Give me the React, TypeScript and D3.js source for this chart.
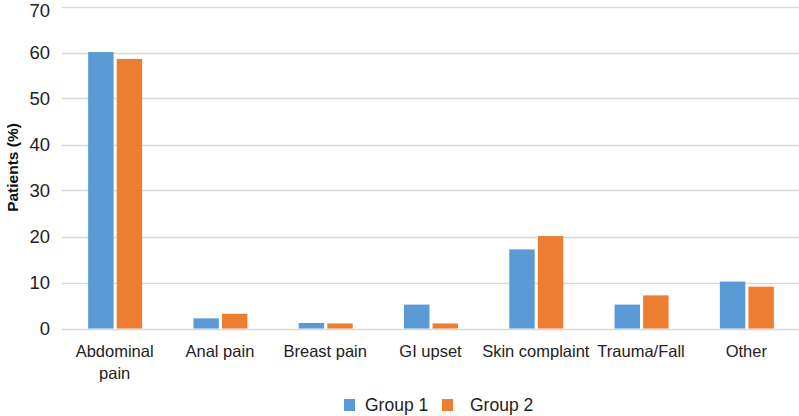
import { useEffect, useRef } from "react";
import * as d3 from "d3";

const categories = ["Abdominal pain", "Anal pain", "Breast pain", "GI upset", "Skin complaint", "Trauma/Fall", "Other"];
const group1 = [60.1, 2.2, 1.2, 5.2, 17.2, 5.2, 10.2];
const group2 = [58.6, 3.2, 1.1, 1.1, 20.1, 7.2, 9.1];
const seriesNames = ["Group 1", "Group 2"];
const colors = ["#5b9bd5", "#ed7d31"];
const yTicks = [0, 10, 20, 30, 40, 50, 60, 70];

const App = () => {
  const ref = useRef<SVGSVGElement>(null);

  useEffect(() => {
    const width = 799;
    const height = 416;
    const margin = { top: 6, right: 0, bottom: 87, left: 62 };
    const font = "'Liberation Sans', Arial, sans-serif";

    const svg = d3.select(ref.current);
    svg.selectAll("*").remove();

    const x = d3
      .scaleBand()
      .domain(categories)
      .range([margin.left, width - margin.right]);
    const x1 = d3
      .scaleBand()
      .domain(seriesNames)
      .range([-27, 27])
      .paddingInner(0.11);
    const y = d3
      .scaleLinear()
      .domain([0, 70])
      .range([height - margin.bottom - 0.5, margin.top + 0.5]);

    // grid
    svg
      .append("g")
      .selectAll("line")
      .data(yTicks)
      .join("line")
      .attr("x1", margin.left)
      .attr("x2", width)
      .attr("y1", (d) => Math.round(y(d)) + 0.5)
      .attr("y2", (d) => Math.round(y(d)) + 0.5)
      .attr("stroke", "#d9d9d9")
      .attr("stroke-width", 1.3);

    // y labels (70 nudged so it is not clipped at the top)
    svg
      .append("g")
      .selectAll("text")
      .data(yTicks)
      .join("text")
      .attr("x", 50)
      .attr("y", (d) => Math.max(y(d), 10.5))
      .attr("dy", "0.36em")
      .attr("text-anchor", "end")
      .attr("font-family", font)
      .attr("font-size", 18.5)
      .attr("fill", "#222")
      .text((d) => d);

    svg
      .append("text")
      .attr("transform", `translate(13,${(y(0) + y(70)) / 2}) rotate(-90)`)
      .attr("text-anchor", "middle")
      .attr("dy", "0.35em")
      .attr("font-family", font)
      .attr("font-weight", "bold")
      .attr("font-size", 15.5)
      .attr("fill", "#111")
      .text("Patients (%)");

    // bars
    const rows = categories.map((c, i) => ({ c, vals: [group1[i], group2[i]] }));
    const g = svg
      .append("g")
      .selectAll("g")
      .data(rows)
      .join("g")
      .attr("transform", (d) => `translate(${x(d.c)! + x.bandwidth() / 2 + 0.5},0)`);
    g.selectAll("rect")
      .data((d) => d.vals.map((v, j) => ({ v, s: seriesNames[j], j })))
      .join("rect")
      .attr("x", (d) => x1(d.s)!)
      .attr("width", x1.bandwidth())
      .attr("y", (d) => y(d.v))
      .attr("height", (d) => y(0) - y(d.v))
      .attr("fill", (d) => colors[d.j]);

    // x labels
    const lab = svg
      .append("g")
      .selectAll("text")
      .data(categories)
      .join("text")
      .attr("x", (d) => x(d)! + x.bandwidth() / 2)
      .attr("y", 357)
      .attr("text-anchor", "middle")
      .attr("font-family", font)
      .attr("font-size", 16.5)
      .attr("fill", "#222");
    lab.each(function (d) {
      const t = d3.select(this);
      const parts = d === "Abdominal pain" ? ["Abdominal", "pain"] : [d];
      parts.forEach((p, i) => {
        t.append("tspan")
          .attr("x", x(d)! + x.bandwidth() / 2)
          .attr("dy", i === 0 ? 0 : 22)
          .text(p);
      });
    });

    // legend
    const legX = [344, 442];
    const leg = svg
      .append("g")
      .selectAll("g")
      .data(seriesNames)
      .join("g")
      .attr("transform", (d, i) => `translate(${legX[i]},399)`);
    leg
      .append("rect")
      .attr("width", 11)
      .attr("height", 12)
      .attr("fill", (d, i) => colors[i]);
    leg
      .append("text")
      .attr("x", (d, i) => (i === 0 ? 21 : 28))
      .attr("y", 6)
      .attr("dy", "0.36em")
      .attr("font-family", font)
      .attr("font-size", 17.5)
      .attr("fill", "#222")
      .text((d) => d);
  }, []);

  return (
    <svg
      ref={ref}
      width={799}
      height={416}
      style={{ position: "absolute", left: 0, top: 0, background: "#fff" }}
    />
  );
};

export default App;
